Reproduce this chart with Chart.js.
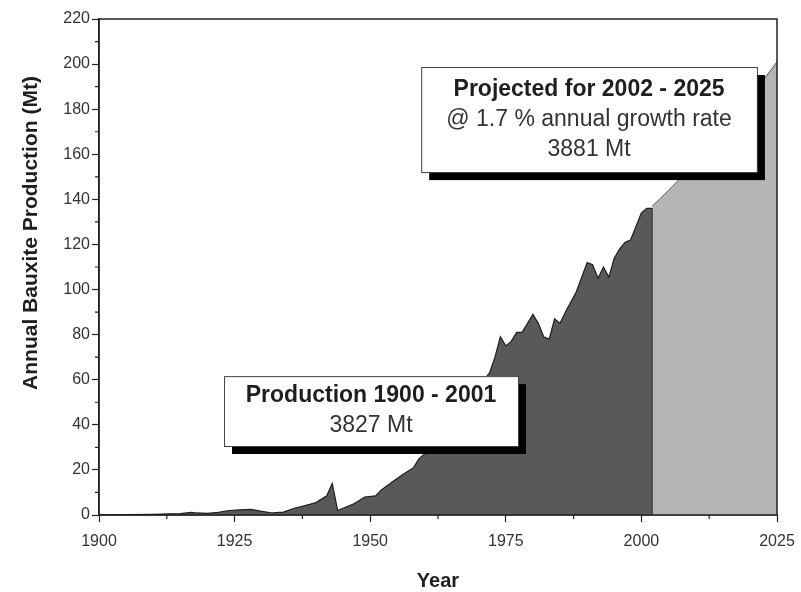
<!DOCTYPE html>
<html>
<head>
<meta charset="utf-8">
<script src="https://cdn.jsdelivr.net/npm/chart.js@4.4.1/dist/chart.umd.min.js"></script>
<style>
  html, body { margin: 0; padding: 0; background: #fff; }
  #wrap { width: 801px; height: 592px; }
</style>
</head>
<body>
<div id="wrap"><canvas id="bauxiteChart" width="801" height="592"></canvas></div>
<script>
// Історичне виробництво бокситів, Мт
const histYears = [1900, 1905, 1910, 1913, 1915, 1917, 1918, 1920, 1922, 1924, 1926, 1928, 1930, 1932, 1934,
    1936, 1938, 1940, 1942, 1943, 1944, 1945, 1947, 1949, 1951, 1952, 1954, 1956, 1958, 1959,
    1960, 1962, 1964, 1966, 1968, 1970, 1971, 1972, 1973, 1974, 1975, 1976, 1977, 1978, 1980,
    1981, 1982, 1983, 1984, 1985, 1986, 1988, 1990, 1991, 1992, 1993, 1994, 1995, 1996, 1997,
    1998, 1999, 2000, 2001, 2002];
const histValues = [0.1, 0.2, 0.3, 0.5, 0.6, 1.2, 0.9, 0.7, 1.2, 2.0, 2.3, 2.5, 1.6, 0.9, 1.3,
    3.0, 4.2, 5.5, 8.5, 14.0, 2.0, 3.0, 5.0, 8.0, 8.5, 11, 14.5, 18, 21, 25,
    27, 30, 36, 42, 48, 57, 60, 63, 70, 79, 75, 77, 81, 81, 89,
    85, 79, 78, 87, 85, 90, 99, 112, 111, 105, 110, 105.5, 114, 118, 121,
    122, 128, 134, 136, 136];

// Прогноз 2002–2025 (1.7 % на рік)
const projYears = [2002, 2005, 2010, 2015, 2020, 2025];
const projValues = [137, 144, 156.5, 170, 185, 201];

const xTickLabels = ['1900', '1925', '1950', '1975', '2000', '2025'];
const yTickLabels = ['0', '20', '40', '60', '80', '100', '120', '140', '160', '180', '200', '220'];

const productionNote = ['Production 1900 - 2001', '3827 Mt'];
const projectedNote = ['Projected for 2002 - 2025', '@ 1.7 % annual growth rate', '3881 Mt'];

const FONT = "'Liberation Sans', Arial, Helvetica, sans-serif";

// Рамки приміток у координатах осей
const notes = [
    { lines: productionNote, x0: 1923.05, x1: 1977.25, y0: 61.6, y1: 30.6 },
    { lines: projectedNote, x0: 1959.4, x1: 2021.3, y0: 198.7, y1: 152.1 }
];

const toPoints = (xs, ys) => xs.map((x, i) => ({ x, y: ys[i] }));

const extrasPlugin = {
    id: 'extras',
    afterDatasetsDraw(chart) {
        const { ctx, chartArea: a, scales: { x, y } } = chart;
        ctx.save();

        // межа між історією та прогнозом
        const lastX = x.getPixelForValue(histYears[histYears.length - 1]);
        ctx.strokeStyle = '#2a2a2a';
        ctx.lineWidth = 1;
        ctx.beginPath();
        ctx.moveTo(lastX, y.getPixelForValue(histValues[histValues.length - 1]));
        ctx.lineTo(lastX, a.bottom);
        ctx.stroke();

        // рамка
        ctx.strokeStyle = '#222';
        ctx.lineWidth = 1.5;
        ctx.strokeRect(a.left, a.top, a.right - a.left, a.bottom - a.top);

        // дрібні поділки
        ctx.lineWidth = 1.2;
        ctx.beginPath();
        for (let i = 0; i < x.ticks.length - 1; i++) {
            const px = x.getPixelForValue((x.ticks[i].value + x.ticks[i + 1].value) / 2);
            ctx.moveTo(px, a.bottom);
            ctx.lineTo(px, a.bottom + 4);
        }
        for (let i = 0; i < y.ticks.length - 1; i++) {
            const py = y.getPixelForValue((y.ticks[i].value + y.ticks[i + 1].value) / 2);
            ctx.moveTo(a.left, py);
            ctx.lineTo(a.left - 4, py);
        }
        ctx.stroke();

        // примітки з тінню
        notes.forEach(n => {
            const l = x.getPixelForValue(n.x0), r = x.getPixelForValue(n.x1);
            const t = y.getPixelForValue(n.y0), b = y.getPixelForValue(n.y1);
            ctx.fillStyle = '#000';
            ctx.fillRect(l + 8, t + 8, r - l, b - t);
            ctx.fillStyle = '#fff';
            ctx.fillRect(l, t, r - l, b - t);
            ctx.strokeStyle = '#444';
            ctx.lineWidth = 1;
            ctx.strokeRect(l + 0.5, t + 0.5, r - l, b - t);

            const cx = (l + r) / 2;
            const startY = (t + b) / 2 - (n.lines.length - 1) * 15;
            ctx.textAlign = 'center';
            ctx.textBaseline = 'middle';
            n.lines.forEach((line, i) => {
                ctx.font = (i === 0 ? 'bold ' : '') + '23px ' + FONT;
                ctx.fillStyle = i === 0 ? '#1e1e1e' : '#333';
                ctx.fillText(line, cx, startY + i * 30);
            });
        });

        // назви осей
        ctx.fillStyle = '#1e1e1e';
        ctx.font = 'bold 20px ' + FONT;
        ctx.textAlign = 'center';
        ctx.textBaseline = 'middle';
        ctx.fillText('Year', (a.left + a.right) / 2, 581);
        ctx.font = 'bold 21px ' + FONT;
        ctx.translate(31, 233);
        ctx.rotate(-Math.PI / 2);
        ctx.fillText('Annual Bauxite Production (Mt)', 0, 0);

        ctx.restore();
    }
};

const ctx = document.getElementById('bauxiteChart').getContext('2d');

new Chart(ctx, {
    type: 'line',
    plugins: [extrasPlugin],
    data: {
        datasets: [{
            data: toPoints(histYears, histValues),
            fill: 'origin',
            backgroundColor: '#595959',
            borderColor: '#1e1e1e',
            borderWidth: 1.2,
            pointRadius: 0,
            tension: 0
        }, {
            data: toPoints(projYears, projValues),
            fill: 'origin',
            backgroundColor: '#b5b5b5',
            borderColor: '#555',
            borderWidth: 1,
            pointRadius: 0,
            tension: 0.3
        }]
    },
    options: {
        responsive: false,
        animation: false,
        layout: { padding: { top: 19, right: 24, left: 0, bottom: 0 } },
        plugins: {
            legend: { display: false },
            tooltip: { enabled: false }
        },
        scales: {
            x: {
                type: 'linear',
                min: 1900,
                max: 2025,
                afterFit: s => { s.height = 77; s.paddingLeft = 0; s.paddingRight = 0; },
                ticks: {
                    stepSize: 25,
                    color: '#333',
                    font: { family: FONT, size: 16 },
                    padding: 10,
                    maxRotation: 0,
                    callback: v => xTickLabels.includes(String(v)) ? String(v) : ''
                },
                grid: { drawOnChartArea: false, tickLength: 7, tickColor: '#222', tickWidth: 1.2 },
                border: { display: true, color: '#222', width: 1.5 }
            },
            y: {
                min: 0,
                max: 220,
                afterFit: s => { s.width = 99; },
                ticks: {
                    stepSize: 20,
                    color: '#333',
                    font: { family: FONT, size: 16 },
                    padding: 2,
                    callback: v => yTickLabels.includes(String(v)) ? String(v) : ''
                },
                grid: { drawOnChartArea: false, tickLength: 7, tickColor: '#222', tickWidth: 1.2 },
                border: { display: true, color: '#222', width: 1.5 }
            }
        }
    }
});
</script>
</body>
</html>
